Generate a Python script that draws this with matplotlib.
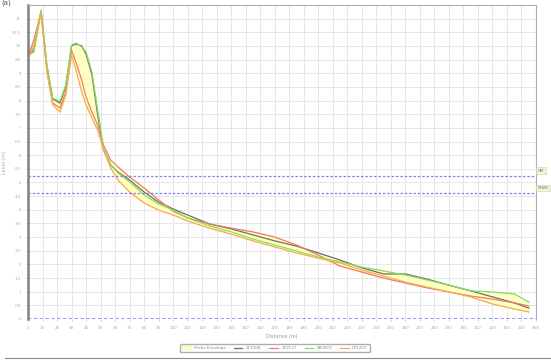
import numpy as np
import matplotlib
matplotlib.use('Agg')
import matplotlib.pyplot as plt
from matplotlib.lines import Line2D

# distance along the profile (m)
dist = [0, 4, 9, 13, 17, 22, 26, 30, 33, 37, 40, 44, 48, 52, 57, 62, 70, 80, 90, 100,
        110, 125, 140, 155, 170, 185, 200, 215, 230, 245, 260, 275, 290, 305, 320, 335, 345]

# series
s_111008 = [9.63, 9.85, 11.28, 9.26, 8.06, 7.91, 8.50, 10.00, 10.07, 10.00, 9.70, 8.94, 7.47,
            6.19, 5.64, 5.38, 5.09, 4.65, 4.28, 4.03, 3.81, 3.48, 3.30, 3.08, 2.86, 2.67,
            2.42, 2.16, 1.87, 1.65, 1.65, 1.46, 1.24, 1.03, 0.81, 0.59, 0.40]
s_110117 = [9.59, 10.22, 11.24, 9.12, 7.91, 7.73, 8.31, 9.85, 9.41, 8.75, 8.13, 7.58, 7.10,
            6.37, 5.82, 5.57, 5.20, 4.80, 4.36, 3.95, 3.70, 3.48, 3.33, 3.19, 3.00, 2.71,
            2.34, 1.94, 1.72, 1.50, 1.32, 1.14, 0.99, 0.84, 0.73, 0.59, 0.48]
s_080922 = [9.67, 9.78, 11.32, 9.30, 8.09, 7.98, 8.57, 10.03, 10.11, 9.96, 9.78, 9.05, 7.65,
            6.26, 5.64, 5.35, 5.02, 4.54, 4.21, 3.99, 3.70, 3.41, 3.19, 2.93, 2.71, 2.49,
            2.27, 2.09, 1.90, 1.76, 1.61, 1.43, 1.24, 1.03, 0.99, 0.92, 0.62]
s_071207 = [9.56, 10.03, 11.17, 9.05, 7.84, 7.58, 8.20, 9.67, 9.12, 8.31, 7.84, 7.36, 6.92,
            6.19, 5.53, 5.09, 4.65, 4.25, 3.99, 3.81, 3.59, 3.33, 3.11, 2.86, 2.64, 2.42,
            2.23, 2.05, 1.79, 1.57, 1.35, 1.17, 0.99, 0.81, 0.55, 0.37, 0.26]

series = {'111008': s_111008, '110117': s_110117, '080922': s_080922, '071207': s_071207}
colors = {'111008': '#6e6e6e', '110117': '#f27a6e', '080922': '#86dd62', '071207': '#f6ab55'}

levels = [5.24, 4.61]
level_names = ['HAT', 'MHWS']

fig = plt.figure(figsize=(5.51, 3.63), dpi=100)
ax = fig.add_axes([28 / 551, 1 - 319 / 363, 508 / 551, 314 / 363])

arr = np.array(list(series.values()))
env = ax.fill_between(dist, arr.min(axis=0), arr.max(axis=0), color='#ffffc4',
                      edgecolor='#f3e9a0', linewidth=0.4, label='Probe Envelope', zorder=1)
handles = [env]
for name, vals in series.items():
    h, = ax.plot(dist, vals, color=colors[name], lw=0.9, label=name, zorder=2)
    handles.append(h)

for lv, nm in zip(levels, level_names):
    ax.axhline(lv, color='#8080f0', lw=0.9, ls=(0, (2, 1.5)), zorder=3)
    ax.annotate(nm, xy=(1.0, lv), xycoords=('axes fraction', 'data'), xytext=(1, 3),
                textcoords='offset points', fontsize=2.5, color='#777',
                bbox=dict(boxstyle='square,pad=0.4', fc='#f4f2d8', ec='#cfcfa8', lw=0.4))
ax.axhline(0, color='#8080f0', lw=1.2, ls=(0, (2, 1.5)), zorder=3)

ax.set_xlim(0, 350)
ax.set_ylim(0, 11.5)
ax.set_xticks(np.arange(0, 351, 10))
ax.set_yticks(np.arange(0, 11.51, 0.5))
ax.set_yticklabels([f'{v:g}' if v < 11.5 else '' for v in np.arange(0, 11.51, 0.5)])
ax.tick_params(labelsize=3, colors='#aaaaaa', length=1.5, width=0.4)
ax.grid(True, color='#e6e6e6', lw=0.7)
ax.set_axisbelow(True)
for side in ['top', 'right']:
    ax.spines[side].set_color('#b0b0b0')
    ax.spines[side].set_linewidth(0.8)
ax.spines['left'].set_color('#808080')
ax.spines['left'].set_linewidth(1.8)
ax.spines['bottom'].set_visible(False)

ax.set_xlabel('Distance (m)', fontsize=3.5, color='#999', labelpad=3)
ax.set_ylabel('Level (m)', fontsize=3.5, color='#aaa', labelpad=4)

fig.text(0.002, 1.0, '(a)', fontsize=5, va='top', ha='left', color='#555')

fig.legend(handles=handles, loc='center', bbox_to_anchor=(275 / 551, 1 - 348 / 363), ncol=5,
           fontsize=3, frameon=True, edgecolor='#999', handlelength=2, columnspacing=2,
           borderpad=0.5, labelcolor='#888')

fig.add_artist(Line2D([5 / 551, 1.0], [1 - 358 / 363] * 2, color='#8a8a8a', lw=0.8,
                      transform=fig.transFigure))

fig.savefig('out.png', dpi=100)
